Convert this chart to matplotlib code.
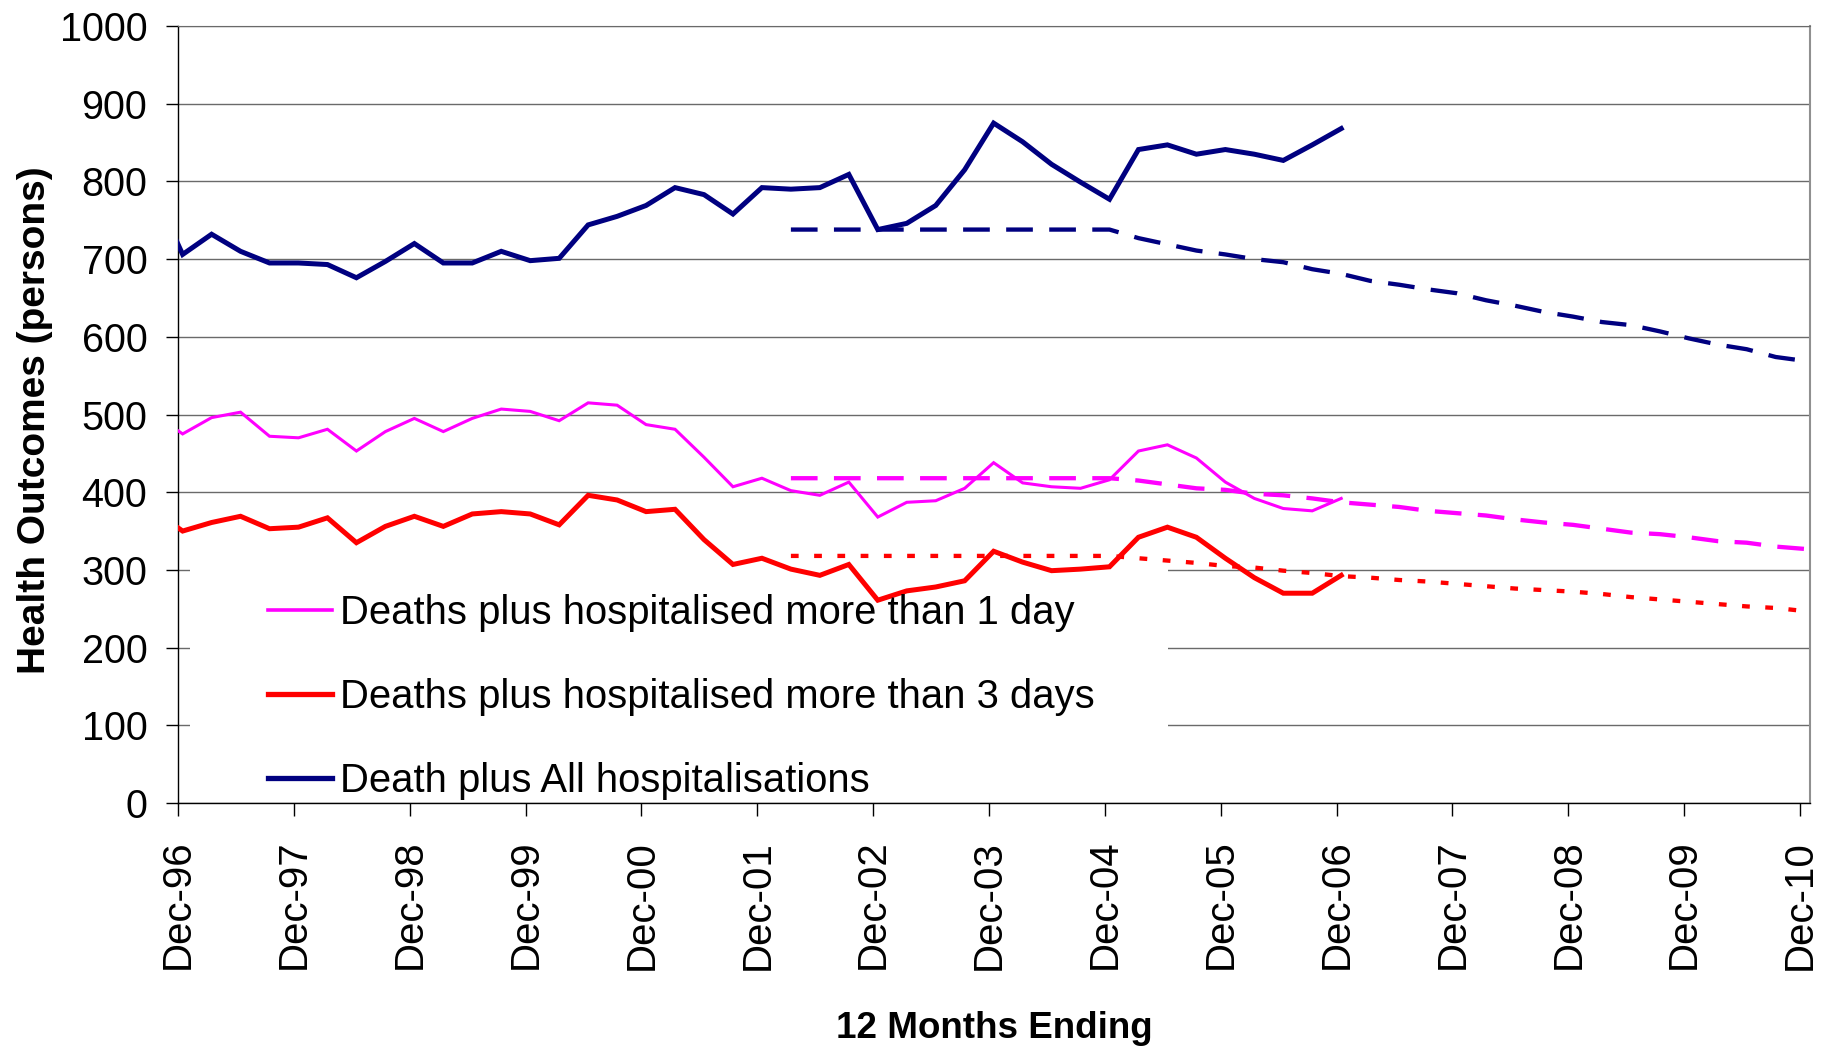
import numpy as np
import matplotlib
matplotlib.use("Agg")
from matplotlib import pyplot as plt
from matplotlib.patches import Rectangle
from matplotlib.lines import Line2D
import matplotlib.transforms as mtransforms

plt.rcParams['font.family'] = ['Liberation Sans', 'DejaVu Sans']

# tick labels (one per December)
anos = ['Dec-96', 'Dec-97', 'Dec-98', 'Dec-99', 'Dec-00', 'Dec-01', 'Dec-02',
        'Dec-03', 'Dec-04', 'Dec-05', 'Dec-06', 'Dec-07', 'Dec-08', 'Dec-09', 'Dec-10']

# quarterly values, Sep-96 .. Dec-06 (first one is cut by the axis)
todos = [788, 706, 732, 710, 695, 695, 693, 676, 697, 720, 695,
         695, 710, 698, 701, 744, 755, 769, 792, 783, 758,
         792, 790, 792, 809, 738, 746, 769, 815, 875, 851,
         822, 799, 777, 841, 847, 835, 841, 835, 827, 847, 868]
mais_1dia = [501, 475, 496, 503, 472, 470, 481, 453, 478, 495, 478,
             495, 507, 504, 492, 515, 512, 487, 481, 445, 407,
             418, 402, 396, 413, 368, 387, 389, 405, 438, 412,
             407, 405, 416, 453, 461, 444, 413, 392, 379, 376, 392]
mais_3dias = [376, 350, 361, 369, 353, 355, 367, 335, 356, 369, 356,
              372, 375, 372, 358, 396, 390, 375, 378, 339, 307,
              315, 301, 293, 307, 261, 273, 278, 286, 324, 310,
              299, 301, 304, 342, 355, 342, 315, 290, 270, 270, 293]

# targets, Mar-02 .. Dec-10
meta_todos = [738] * 12 + [727, 719, 711, 706, 700, 696, 687, 681, 672, 667, 661, 656,
                           647, 640, 632, 626, 619, 615, 607, 598, 590, 584, 574, 569]
meta_1dia = [418] * 12 + [415, 410, 405, 403, 398, 396, 392, 387, 384, 381, 376, 373,
                          370, 365, 361, 358, 353, 348, 346, 342, 337, 335, 330, 327]
meta_3dias = [318] * 12 + [315, 312, 309, 305, 303, 299, 296, 292, 290, 287, 285, 282,
                           279, 276, 274, 272, 269, 265, 262, 259, 256, 253, 251, 247]

# x in years after Dec-96, points sit a little right of the tick
desloc = 0.04
x_real = (np.arange(len(todos)) - 1) * 0.25 + desloc
x_meta = (np.arange(len(meta_todos)) + 21) * 0.25 + desloc

azul = '#000080'
rosa = '#FF00FF'
verm = '#FF0000'

fig = plt.figure(figsize=(18.36, 10.46), dpi=100)
ax = fig.add_axes([178 / 1836, 243 / 1046, 1632 / 1836, 777 / 1046])

ax.plot(x_real, mais_1dia, color=rosa, lw=2.2, zorder=3, solid_joinstyle='miter')
ax.plot(x_real, mais_3dias, color=verm, lw=3.6, zorder=3, solid_joinstyle='miter')
ax.plot(x_real, todos, color=azul, lw=3.6, zorder=3, solid_joinstyle='miter')

ax.plot(x_meta, meta_todos, color=azul, lw=3.1, dashes=(6.2, 3.8), zorder=3)
ax.plot(x_meta, meta_1dia, color=rosa, lw=3.1, dashes=(6.2, 3.8), zorder=3)
ax.plot(x_meta, meta_3dias, color=verm, lw=3.1, dashes=(1.8, 3.6), zorder=3)

ax.set_xlim(0, 14 + 10 / 116)
ax.set_ylim(0, 1000)
ax.set_xticks(range(len(anos)))
ax.set_xticklabels(anos, rotation=90, fontsize=29)
ax.set_yticks(range(0, 1001, 100))
ax.tick_params(axis='y', labelsize=28.5, length=8.6, width=1, pad=13.5)
ax.tick_params(axis='x', length=9.4, width=1, pad=17)

ax.set_axisbelow(True)
ax.grid(axis='y', color='#6a6a6a', lw=1.0)
ax.spines['left'].set_color('black')
ax.spines['bottom'].set_color('black')
ax.spines['right'].set_color('#909090')
ax.spines['right'].set_linewidth(1.5)
ax.spines['top'].set_color('#6a6a6a')
for s in ['left', 'bottom']:
    ax.spines[s].set_linewidth(1.0)

# white box behind the legend hides the grid there
trans = mtransforms.blended_transform_factory(ax.transAxes, ax.transData)
ax.add_patch(Rectangle((12 / 1632, 1), 978 / 1632, 304, transform=trans,
                       facecolor='white', edgecolor='none', zorder=1))

ax.set_ylabel('Health Outcomes (persons)', fontsize=28, fontweight='bold')
ax.yaxis.set_label_coords(-125 / 1632, 0.493)
ax.set_xlabel('12 Months Ending', fontsize=26.5, fontweight='bold')
ax.xaxis.label.set_va('baseline')
ax.xaxis.set_label_coords(0.5, -(1038 - 803) / 777)

alcas = [Line2D([], [], color=rosa, lw=2.6),
         Line2D([], [], color=verm, lw=3.8),
         Line2D([], [], color=azul, lw=3.8)]
nomes = ['Deaths plus hospitalised more than 1 day',
         'Deaths plus hospitalised more than 3 days',
         'Death plus All hospitalisations']
leg = ax.legend(alcas, nomes, loc='center left', frameon=False, fontsize=28.8,
                bbox_to_anchor=(268 / 1836, 1 - 697 / 1046), bbox_transform=fig.transFigure,
                borderpad=0, borderaxespad=0, handlelength=1.6, handletextpad=0.2,
                labelspacing=1.15)
leg.set_zorder(5)

fig.savefig('out.png', dpi=100)
